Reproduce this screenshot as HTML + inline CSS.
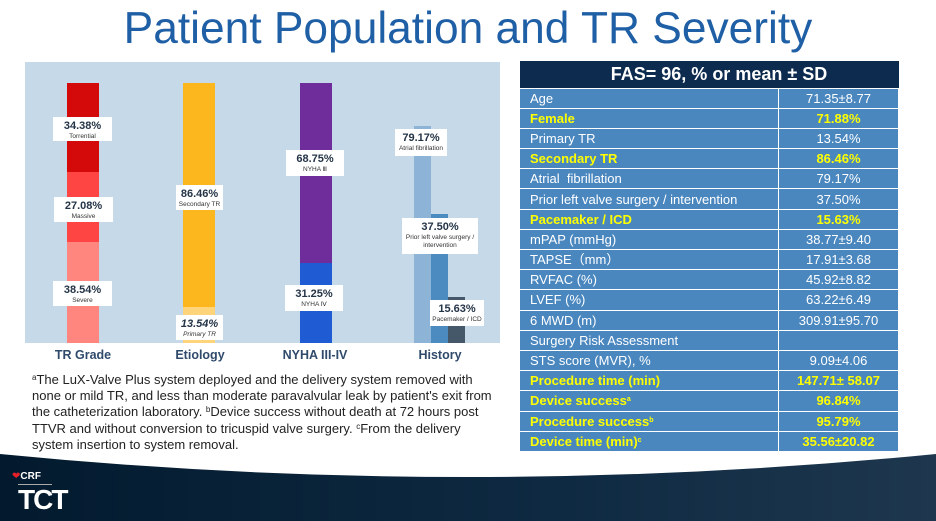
<!DOCTYPE html>
<html><head><style>
*{margin:0;padding:0;box-sizing:border-box}
body{width:936px;height:521px;background:#fff;position:relative;overflow:hidden;font-family:"Liberation Sans",sans-serif}
.abs{position:absolute}
sup{line-height:0;vertical-align:4px}
.lbl{position:absolute;background:#fff;text-align:center;color:#243447;}
.lbl b{display:block;font-size:11px;line-height:13px;margin-top:3px}
.lbl span{display:block;font-size:6.5px;line-height:8px;color:#333}
.cat{position:absolute;top:348px;font-size:12.5px;font-weight:bold;color:#2f4a6b;width:120px;text-align:center}
table{position:absolute;left:519px;top:61px;width:380px;border-collapse:collapse}
td{background:#4a87bf;color:#fff;font-size:13px;height:20.2px;padding:0 0 0 10px;border:1.5px solid #fff;line-height:17px}
td.v{text-align:center;padding:0;width:120px}
tr.y td{color:#ffff00;font-weight:bold}
th{background:#0d2b4e;color:#fff;font-size:18px;height:27px;text-align:center;padding-left:20px}
</style></head><body>
<div class="abs" style="left:0;top:4px;width:936px;text-align:center;font-size:44.3px;color:#1f5fa6;line-height:50px">Patient Population and TR Severity</div>

<div class="abs" style="left:25px;top:62px;width:475px;height:281px;background:#c5d9e9"></div>
<div class="abs" style="left:67px;top:83px;width:32px;height:89px;background:#d40a0a"></div>
<div class="abs" style="left:67px;top:172px;width:32px;height:70px;background:#ff4444"></div>
<div class="abs" style="left:67px;top:242px;width:32px;height:101px;background:#ff857f"></div>
<div class="abs" style="left:183px;top:83px;width:32px;height:224px;background:#fcb71e"></div>
<div class="abs" style="left:183px;top:307px;width:32px;height:36px;background:#ffd47a"></div>
<div class="abs" style="left:300px;top:83px;width:32px;height:180px;background:#6f2d9b"></div>
<div class="abs" style="left:300px;top:263px;width:32px;height:80px;background:#1f5bd3"></div>
<div class="abs" style="left:414px;top:126px;width:17px;height:217px;background:#8db4d6"></div>
<div class="abs" style="left:431px;top:214px;width:17px;height:129px;background:#4b8bbf"></div>
<div class="abs" style="left:448px;top:297px;width:17px;height:46px;background:#44586a"></div>

<div class="lbl" style="left:53px;top:117px;width:59px;height:24px"><b>34.38%</b><span>Torrential</span></div>
<div class="lbl" style="left:54px;top:197px;width:59px;height:25px"><b>27.08%</b><span>Massive</span></div>
<div class="lbl" style="left:53px;top:281px;width:59px;height:25px"><b>38.54%</b><span>Severe</span></div>
<div class="lbl" style="left:176px;top:185px;width:47px;height:25px"><b>86.46%</b><span>Secondary TR</span></div>
<div class="lbl" style="left:176px;top:315px;width:47px;height:25px;font-style:italic"><b>13.54%</b><span>Primary TR</span></div>
<div class="lbl" style="left:286px;top:150px;width:58px;height:26px"><b>68.75%</b><span>NYHA Ⅲ</span></div>
<div class="lbl" style="left:285px;top:285px;width:58px;height:26px"><b>31.25%</b><span>NYHA Ⅳ</span></div>
<div class="lbl" style="left:395px;top:129px;width:52px;height:27px"><b>79.17%</b><span>Atrial fibrillation</span></div>
<div class="lbl" style="left:402px;top:218px;width:76px;height:36px"><b>37.50%</b><span>Prior left valve surgery /<br>intervention</span></div>
<div class="lbl" style="left:430px;top:300px;width:54px;height:26px"><b>15.63%</b><span>Pacemaker / ICD</span></div>

<div class="cat" style="left:23px">TR Grade</div>
<div class="cat" style="left:140px">Etiology</div>
<div class="cat" style="left:255px">NYHA III-IV</div>
<div class="cat" style="left:380px">History</div>

<div class="abs" style="left:32px;top:372px;width:480px;font-size:13px;line-height:16.2px;color:#222;white-space:nowrap"><sup style="font-size:8px">a</sup>The LuX-Valve Plus system deployed and the delivery system removed with<br>none or mild TR, and less than moderate paravalvular leak by patient's exit from<br>the catheterization laboratory. <sup style="font-size:8px">b</sup>Device success without death at 72 hours post<br>TTVR and without conversion to tricuspid valve surgery. <sup style="font-size:8px">c</sup>From the delivery<br>system insertion to system removal.</div>

<table>
<tr><th colspan="2">FAS= 96, % or mean ± SD</th></tr>
<tr><td>Age</td><td class="v">71.35±8.77</td></tr>
<tr class="y"><td>Female</td><td class="v">71.88%</td></tr>
<tr><td>Primary TR</td><td class="v">13.54%</td></tr>
<tr class="y"><td>Secondary TR</td><td class="v">86.46%</td></tr>
<tr><td>Atrial&nbsp; fibrillation</td><td class="v">79.17%</td></tr>
<tr><td>Prior left valve surgery / intervention</td><td class="v">37.50%</td></tr>
<tr class="y"><td>Pacemaker / ICD</td><td class="v">15.63%</td></tr>
<tr><td>mPAP (mmHg)</td><td class="v">38.77±9.40</td></tr>
<tr><td>TAPSE（mm）</td><td class="v">17.91±3.68</td></tr>
<tr><td>RVFAC (%)</td><td class="v">45.92±8.82</td></tr>
<tr><td>LVEF (%)</td><td class="v">63.22±6.49</td></tr>
<tr><td>6 MWD (m)</td><td class="v">309.91±95.70</td></tr>
<tr><td>Surgery Risk Assessment</td><td class="v"></td></tr>
<tr><td>STS score (MVR), %</td><td class="v">9.09±4.06</td></tr>
<tr class="y"><td>Procedure time (min)</td><td class="v">147.71± 58.07</td></tr>
<tr class="y"><td>Device success<sup style="font-size:7px">a</sup></td><td class="v">96.84%</td></tr>
<tr class="y"><td>Procedure success<sup style="font-size:7px">b</sup></td><td class="v">95.79%</td></tr>
<tr class="y"><td>Device time (min)<sup style="font-size:7px">c</sup></td><td class="v">35.56±20.82</td></tr>
</table>

<svg class="abs" style="left:0;top:450px" width="936" height="71">
<defs><linearGradient id="g" x1="0" x2="1"><stop offset="0" stop-color="#031a2e"/><stop offset="0.6" stop-color="#0e2a42"/><stop offset="1" stop-color="#1e374e"/></linearGradient></defs>
<path d="M0 4 Q468 50 936 4 L936 71 L0 71Z" fill="url(#g)"/>
</svg>
<div class="abs" style="left:12px;top:471px;color:#e8202a;font-size:10px">&#10084;<span style="color:#fff;font-weight:bold;font-size:10px">CRF</span></div>
<div class="abs" style="left:18px;top:484px;width:34px;border-top:1px solid #aaa"></div>
<div class="abs" style="left:18px;top:483px;color:#fff;font-size:28px;font-weight:bold;letter-spacing:-2px;line-height:34px">TCT</div>
</body></html>
